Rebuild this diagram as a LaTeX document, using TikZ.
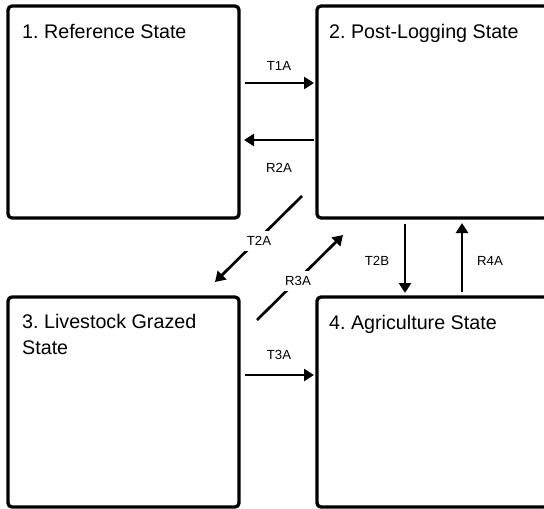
\documentclass[tikz,border=0pt]{standalone}
\usepackage{fontspec}
\setmainfont{Liberation Sans}
\usetikzlibrary{arrows.meta}
\begin{document}
\frenchspacing
\begin{tikzpicture}[x=1pt,y=-1pt,
  statebox/.style={draw=black,line width=3.3pt,rounded corners=4pt,minimum width=231pt,inner sep=0pt},
  title/.style={anchor=base west,inner sep=0pt,font=\fontsize{19.7}{25.3}\selectfont,align=left},
  lab/.style={inner sep=2.5pt,font=\fontsize{13.2}{15}\selectfont},
  gaplab/.style={lab,fill=white,inner xsep=4pt,inner ysep=5pt},
  conn/.style={line width=2.7pt,-{Triangle[length=10pt,width=12pt]}}]
\useasboundingbox (0,0) rectangle (544,509);
\clip (0,0) rectangle (544,509);
\node[statebox,minimum height=212pt] (b1) at (123.5,112) {};
\node[statebox,minimum height=212pt] (b2) at (432.5,112) {};
\node[statebox,minimum height=210pt] (b3) at (123.5,402) {};
\node[statebox,minimum height=210pt] (b4) at (432.5,402) {};
\node[title] (t1) at (22,38) {1. Reference State};
\node[title] (t2) at (329,38) {2. Post-Logging State};
\node[title] (t3) at (22,354) {3. Livestock Grazed\\State};
\node[title] (t4) at (329,329) {4. Agriculture State};
% connector endpoints
\coordinate (a1s) at (245,83);  \coordinate (a1e) at (314,83);
\coordinate (a2s) at (314,140); \coordinate (a2e) at (244,140);
\coordinate (a3s) at (302,196); \coordinate (a3e) at (215,282);
\coordinate (a4s) at (257,320); \coordinate (a4e) at (343,235);
\coordinate (a5s) at (405,224); \coordinate (a5e) at (405,293);
\coordinate (a6s) at (462,292); \coordinate (a6e) at (462,223);
\coordinate (a7s) at (245,375); \coordinate (a7e) at (314,375);
\draw[conn] (a1s) -- (a1e);
\draw[conn] (a2s) -- (a2e);
\draw[conn] (a3s) -- (a3e);
\draw[conn] (a4s) -- (a4e);
\draw[conn] (a5s) -- (a5e);
\draw[conn] (a6s) -- (a6e);
\draw[conn] (a7s) -- (a7e);
\node[lab] (l1) at (279,66) {T1A};
\node[lab] (l2) at (279,168) {R2A};
\node[gaplab] (l3) at (259,241) {T2A};
\node[gaplab] (l4) at (298,281) {R3A};
\node[lab] (l5) at (377,261) {T2B};
\node[lab] (l6) at (490,261) {R4A};
\node[lab] (l7) at (279,355) {T3A};
\end{tikzpicture}
\end{document}
